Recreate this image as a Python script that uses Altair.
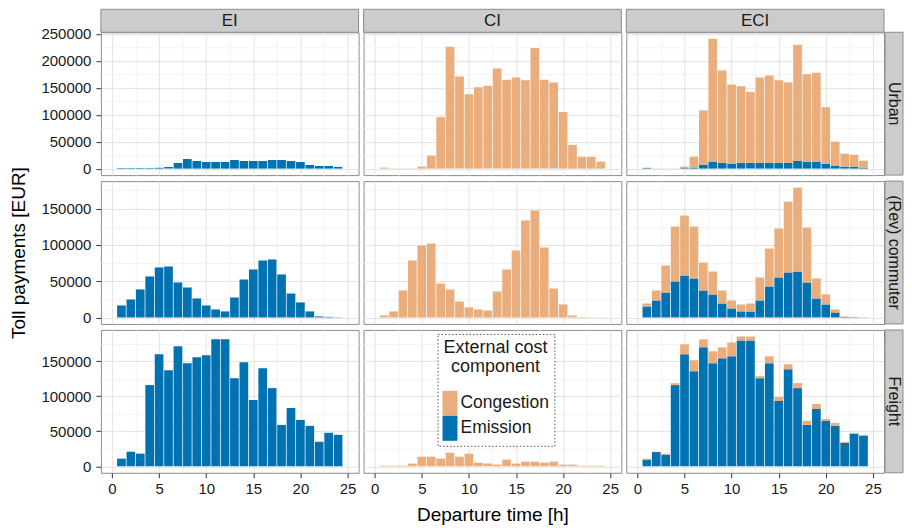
import altair as alt
import pandas as pd

HOURS = list(range(1, 25))
COLUMNS = ["EI", "CI", "ECI"]
ROWS = ["Urban", "(Rev) commuter", "Freight"]
COMPONENTS = ["Congestion", "Emission"]
COMPONENT_COLORS = ["#EAAE7C", "#0072B2"]
X_TICKS = [0, 2.5, 5, 7.5, 10, 12.5, 15, 17.5, 20, 22.5, 25]
Y_TICKS = {
    "Urban": [0, 25000, 50000, 75000, 100000, 125000, 150000, 175000, 200000, 225000, 250000],
    "(Rev) commuter": [0, 25000, 50000, 75000, 100000, 125000, 150000, 175000],
    "Freight": [0, 25000, 50000, 75000, 100000, 125000, 150000, 175000],
}

# ---- Urban ----
URBAN_EI_EMISSION = [1000, 1000, 1000, 1000, 1500, 3100, 10400, 17800, 14100, 12300, 12300, 12300,
                     16000, 14100, 14100, 14100, 16000, 16000, 14100, 12300, 6700, 4900, 4900, 3100]
URBAN_CI_CONGESTION = [2000, 500, 500, 500, 3700, 24000, 95600, 226000, 171000, 138000, 151000, 154000,
                       186000, 165000, 169000, 164000, 224000, 165000, 160000, 105000, 44000, 22000, 22000, 13000]
URBAN_ECI_EMISSION = [1000, 0, 0, 0, 1000, 2000, 7400, 12900, 11000, 9200, 11000, 11000,
                      11000, 11000, 11000, 11000, 14700, 12900, 12900, 9200, 5500, 3700, 3700, 1800]
URBAN_ECI_CONGESTION = [800, 500, 500, 500, 2700, 20000, 100600, 228100, 171000, 146800, 142000, 131000,
                        158000, 162000, 153000, 149000, 215300, 162100, 165100, 104800, 44500, 23900, 22000, 12900]

# ---- (Rev) commuter ----
COMM_EI_EMISSION = [16500, 24800, 38600, 56500, 68900, 70200, 48200, 41300, 26200, 16500, 11000, 8300,
                    27500, 52300, 66100, 78500, 79900, 59200, 33000, 20700, 8300, 1400, 700, 300]
COMM_CI_CONGESTION = [2800, 8300, 37200, 78500, 99100, 101900, 46800, 38600, 22000, 13800, 11000, 9600,
                      35800, 66100, 92300, 133600, 147300, 96400, 39900, 17900, 2800, 500, 200, 200]
COMM_ECI_EMISSION = [15100, 23400, 34400, 49600, 57800, 53700, 37200, 31700, 19300, 12400, 8300, 8300,
                     23400, 42700, 55100, 62000, 63300, 48200, 26200, 17900, 6900, 700, 500, 200]
COMM_ECI_CONGESTION = [4200, 13800, 37200, 75700, 82700, 71600, 38500, 31600, 17900, 11000, 9600, 11000,
                       31700, 52300, 67500, 97700, 115700, 75700, 27500, 13800, 4100, 700, 200, 100]

# ---- Freight ----
FREIGHT_EI_EMISSION = [10900, 20800, 18000, 115900, 159900, 137200, 171200, 147100, 155600, 158500, 181200, 181200,
                       125800, 148500, 94600, 140000, 111600, 59100, 83200, 66200, 57700, 35000, 47800, 44900]
FREIGHT_CI_CONGESTION = [900, 900, 900, 3800, 13700, 13700, 10900, 19400, 13700, 18000, 5200, 3800,
                         2400, 9500, 3800, 6600, 6600, 5200, 6600, 2400, 2400, 900, 900, 900]
FREIGHT_ECI_EMISSION = [9500, 20300, 16600, 115900, 159900, 135800, 169800, 147100, 154200, 157000, 179700, 179700,
                        125800, 147100, 93200, 138600, 111600, 59100, 81800, 64800, 57700, 33600, 46400, 43500]
FREIGHT_ECI_CONGESTION = [1400, 500, 1400, 2800, 14200, 15600, 11400, 17000, 15600, 19900, 5700, 5700,
                          2900, 9900, 5700, 7100, 7100, 5700, 7100, 2800, 4300, 1400, 1400, 1400]

SERIES = [
    ("Urban", "EI", "Emission", URBAN_EI_EMISSION),
    ("Urban", "CI", "Congestion", URBAN_CI_CONGESTION),
    ("Urban", "ECI", "Emission", URBAN_ECI_EMISSION),
    ("Urban", "ECI", "Congestion", URBAN_ECI_CONGESTION),
    ("(Rev) commuter", "EI", "Emission", COMM_EI_EMISSION),
    ("(Rev) commuter", "CI", "Congestion", COMM_CI_CONGESTION),
    ("(Rev) commuter", "ECI", "Emission", COMM_ECI_EMISSION),
    ("(Rev) commuter", "ECI", "Congestion", COMM_ECI_CONGESTION),
    ("Freight", "EI", "Emission", FREIGHT_EI_EMISSION),
    ("Freight", "CI", "Congestion", FREIGHT_CI_CONGESTION),
    ("Freight", "ECI", "Emission", FREIGHT_ECI_EMISSION),
    ("Freight", "ECI", "Congestion", FREIGHT_ECI_CONGESTION),
]

records = []
for row, col, comp, vals in SERIES:
    for h, v in zip(HOURS, vals):
        if v > 0:
            records.append({"row": row, "col": col, "comp": comp, "hour": h, "value": v,
                            "ord": 0 if comp == "Emission" else 1})
df = pd.DataFrame(records)

# ggplot-like 5% expansion of each row's y range
totals = df.groupby(["row", "col", "hour"])["value"].sum().reset_index()
row_max = totals.groupby("row")["value"].max().to_dict()

W, H = 258, 143
STRIP_W = 18
TEXT = "#1A1A1A"
STRIP_FILL = "#CCCCCC"
STRIP_STROKE = "#8C8C8C"
MAJOR_X = "datum.value % 5 === 0"
MAJOR_Y = "datum.value % 50000 === 0"


def make_panel(ri, ci):
    row, col = ROWS[ri], COLUMNS[ci]
    sub = df[(df["row"] == row) & (df["col"] == col)]
    m = row_max[row]
    xsc = alt.Scale(domain=[-0.65, 25.65], nice=False, zero=False)
    ysc = alt.Scale(domain=[-0.05 * m, 1.05 * m], nice=False, zero=False)
    bottom = ri == len(ROWS) - 1
    left = ci == 0

    xgrid = dict(values=X_TICKS, grid=True, domain=False, gridWidth=1,
                 gridColor=alt.condition(MAJOR_X, alt.value("#E2E2E2"), alt.value("#F3F3F3")))
    if bottom:
        xaxis = alt.Axis(labels=True, ticks=True, tickSize=5, tickColor="#333333", tickWidth=1,
                         tickOpacity=alt.condition(MAJOR_X, alt.value(1), alt.value(0)),
                         labelExpr="datum.value % 5 === 0 ? datum.label : ''",
                         labelFontSize=15, labelColor=TEXT, labelPadding=4,
                         labelFlush=False, labelOverlap=False,
                         titleFontSize=19, titleFontWeight="normal", titleColor="#000000",
                         titlePadding=9, **xgrid)
    else:
        xaxis = alt.Axis(labels=False, ticks=False, **xgrid)
    xtitle = "Departure time [h]" if (bottom and ci == 1) else None

    ygrid = dict(values=Y_TICKS[row], grid=True, domain=False, gridWidth=1,
                 gridColor=alt.condition(MAJOR_Y, alt.value("#E2E2E2"), alt.value("#F3F3F3")))
    if left:
        yaxis = alt.Axis(labels=True, ticks=True, tickSize=5, tickColor="#333333", tickWidth=1,
                         tickOpacity=alt.condition(MAJOR_Y, alt.value(1), alt.value(0)),
                         labelExpr="datum.value % 50000 === 0 ? format(datum.value, 'd') : ''",
                         labelFontSize=15, labelColor=TEXT, labelPadding=5,
                         labelFlush=False, labelOverlap=False,
                         titleFontSize=19, titleFontWeight="normal", titleColor="#000000",
                         titlePadding=12, **ygrid)
    else:
        yaxis = alt.Axis(labels=False, ticks=False, **ygrid)
    ytitle = "Toll payments [EUR]" if (left and ri == 1) else None

    if ri == 2 and ci == 1:
        legend = alt.Legend(orient="none", legendX=74, legendY=4,
                            title=["External cost", "component"],
                            titleFontSize=18, titleFontWeight="normal", titleColor=TEXT,
                            titleAnchor="middle", titleAlign="center", titleLineHeight=19,
                            titlePadding=15, titleLimit=300,
                            labelFontSize=17.5, labelColor=TEXT, labelOffset={"expr": "-7"}, labelLimit=300,
                            symbolType="M-1,-1H0.2V1H-1Z", symbolSize=625,
                            symbolStrokeWidth=0, symbolOpacity=1, rowPadding=0,
                            padding=5, strokeColor="#555555", fillColor="#FFFFFF")
    else:
        legend = None

    bars = alt.Chart(sub).mark_bar(size=8.7).encode(
        x=alt.X("hour:Q", scale=xsc, axis=xaxis, title=xtitle),
        y=alt.Y("value:Q", stack="zero", scale=ysc, axis=yaxis, title=ytitle),
        color=alt.Color("comp:N", scale=alt.Scale(domain=COMPONENTS, range=COMPONENT_COLORS),
                        legend=legend),
        order=alt.Order("ord:Q", sort="ascending"),
    )
    layers = [bars]

    if ri == 0:
        lab = pd.DataFrame({"t": [col]})
        layers.append(alt.Chart(lab).mark_rect(fill=STRIP_FILL, stroke=STRIP_STROKE, strokeWidth=1).encode(
            x=alt.value(0), x2=alt.value(W), y=alt.value(-23), y2=alt.value(0)))
        layers.append(alt.Chart(lab).mark_text(fontSize=17, color=TEXT, baseline="middle", align="center").encode(
            text="t:N", x=alt.value(W / 2), y=alt.value(-11)))
    if ci == len(COLUMNS) - 1:
        lab = pd.DataFrame({"t": [row]})
        layers.append(alt.Chart(lab).mark_rect(fill=STRIP_FILL, stroke=STRIP_STROKE, strokeWidth=1).encode(
            x=alt.value(W + 1), x2=alt.value(W + 1 + STRIP_W), y=alt.value(0), y2=alt.value(H)))
        layers.append(alt.Chart(lab).mark_text(fontSize=16, color=TEXT, baseline="middle", align="center",
                                               angle=90).encode(
            text="t:N", x=alt.value(W + 1 + STRIP_W / 2), y=alt.value(H / 2)))

    return alt.layer(*layers).properties(width=W, height=H)


panels = [make_panel(ri, ci) for ri in range(len(ROWS)) for ci in range(len(COLUMNS))]

chart = (
    alt.concat(*panels, columns=3, spacing={"row": 6, "column": 5}, bounds="flush")
    .resolve_scale(color="independent")
    .properties(padding={"left": 1, "top": 0, "right": 0, "bottom": 0})
    .configure(font="Liberation Sans")
    .configure_view(stroke="#8C8C8C", strokeWidth=1)
    .configure_legend(strokeDash=[1.5, 2], strokeWidth=1)
)

chart.save("out.html", embed_options={"renderer": "svg", "actions": False})
